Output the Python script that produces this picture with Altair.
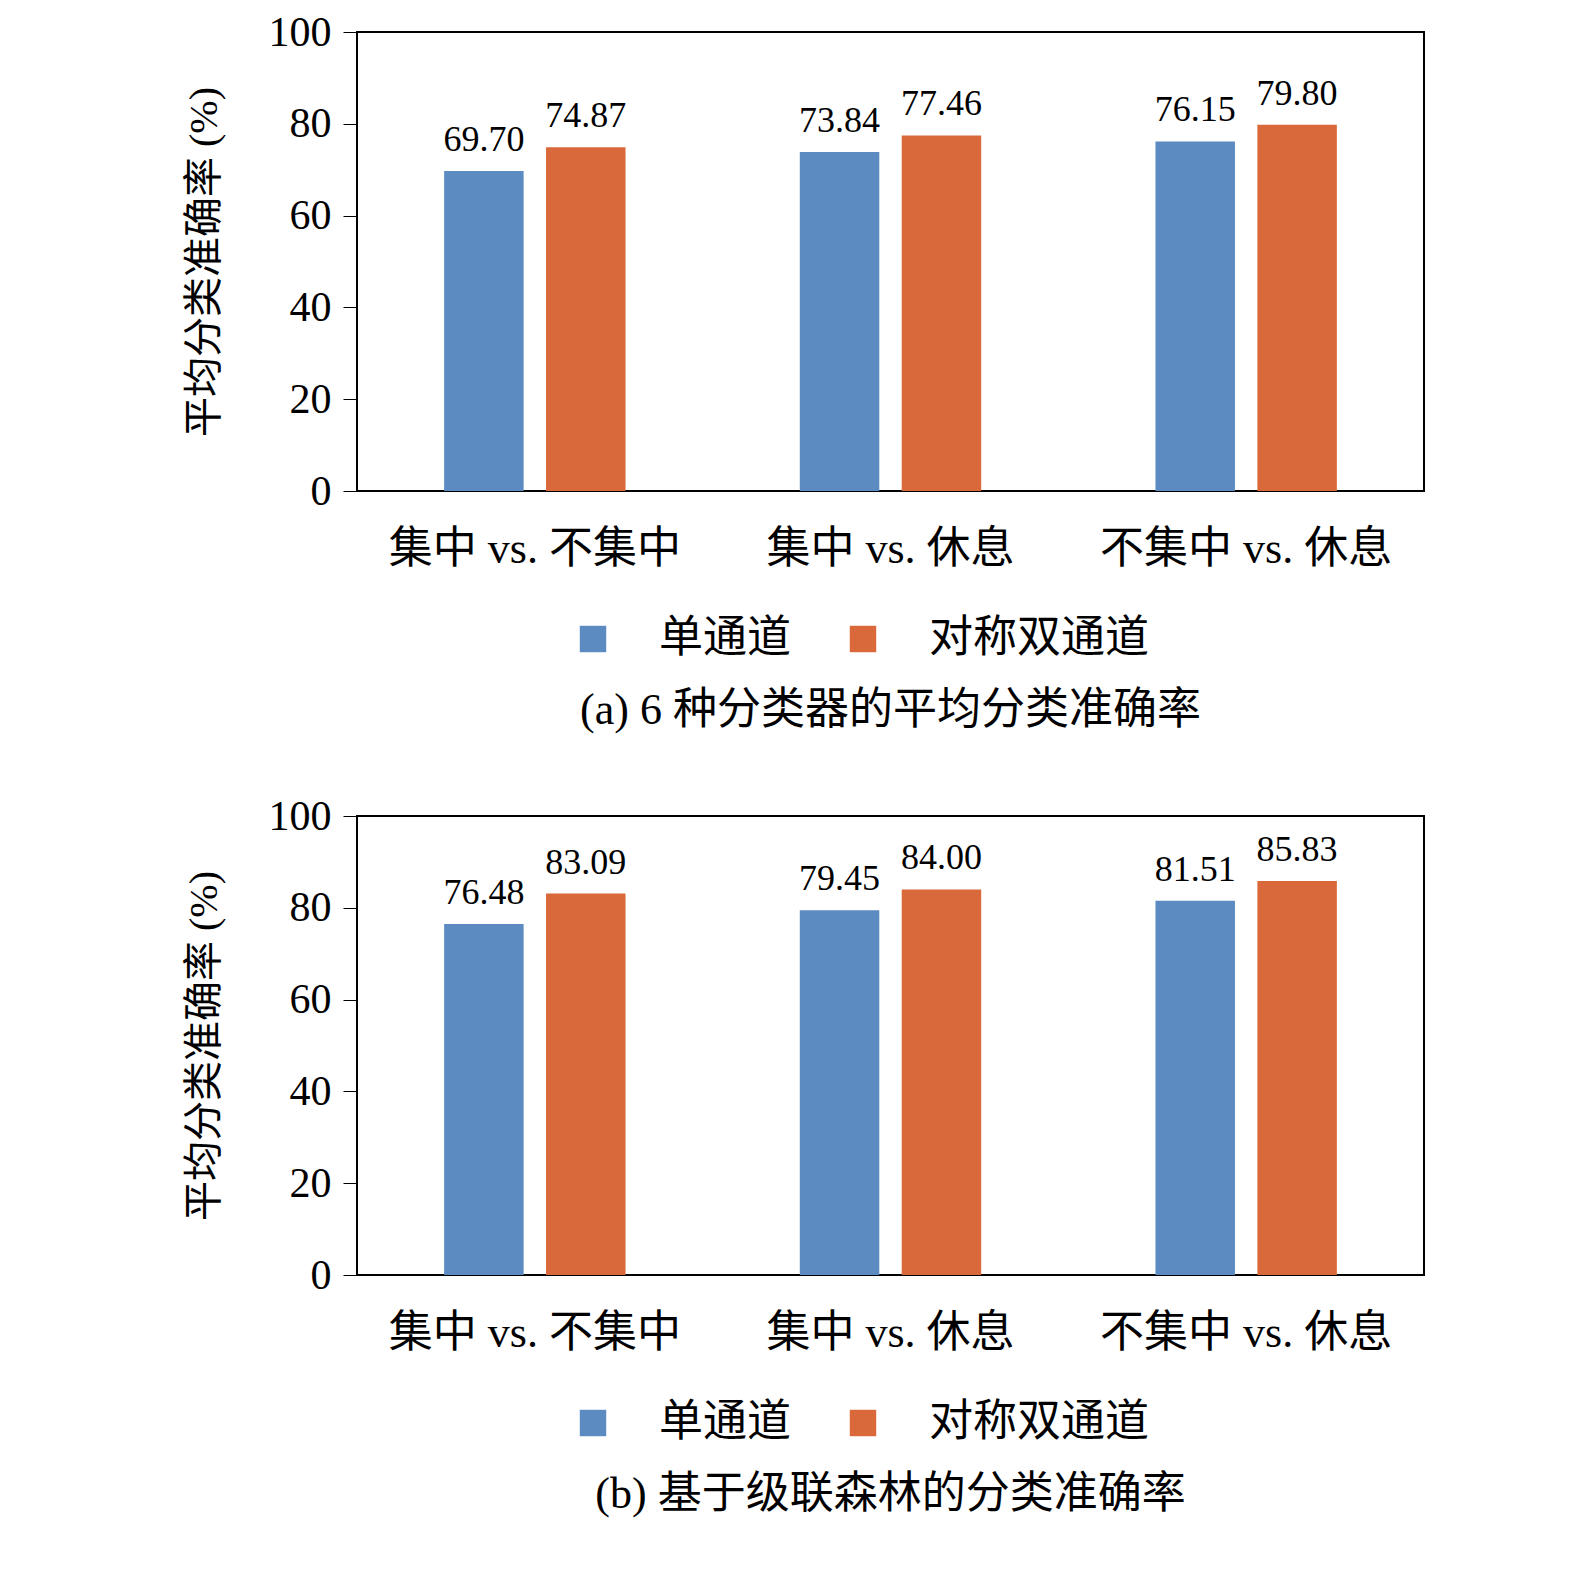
import pandas as pd
import altair as alt

groups = ["集中 vs. 不集中", "集中 vs. 休息", "不集中 vs. 休息"]
series = ["单通道", "对称双通道"]
vals_a_single = [69.70, 73.84, 76.15]
vals_a_dual = [74.87, 77.46, 79.80]
vals_b_single = [76.48, 79.45, 81.51]
vals_b_dual = [83.09, 84.00, 85.83]
captions = ["(a) 6 种分类器的平均分类准确率", "(b) 基于级联森林的分类准确率"]

FONT = "Liberation Serif, Noto Sans CJK SC"


def panel(single, dual, caption):
    rows = []
    for g, s, d in zip(groups, single, dual):
        rows.append({"group": g, "series": series[0], "value": s})
        rows.append({"group": g, "series": series[1], "value": d})
    df = pd.DataFrame(rows)
    df["label"] = df["value"].map(lambda v: f"{v:.2f}")

    base = alt.Chart(df).encode(
        x=alt.X("group:N", sort=groups, title=None,
                scale=alt.Scale(paddingInner=0.49, paddingOuter=0.245),
                axis=alt.Axis(labelAngle=0, labelFontSize=44, labelFont=FONT,
                              labelColor="black", ticks=False, domain=False,
                              labelPadding=36, labelLimit=0)),
        xOffset=alt.XOffset("series:N", sort=series,
                            scale=alt.Scale(paddingInner=0.22)),
    )
    bars = base.mark_bar().encode(
        y=alt.Y("value:Q", scale=alt.Scale(domain=[0, 100]),
                title="平均分类准确率 (%)",
                axis=alt.Axis(values=[0, 20, 40, 60, 80, 100], grid=False,
                              labelFontSize=42, labelFont=FONT, labelColor="black",
                              titleFontSize=40, titleFont=FONT, titleColor="black",
                              titleFontWeight="normal", titlePadding=44,
                              tickColor="black", tickSize=14, labelPadding=12,
                              domain=False)),
        color=alt.Color("series:N", sort=series,
                        scale=alt.Scale(domain=series, range=["#5B8BC0", "#D9693A"]),
                        legend=alt.Legend(title=None, orient="none", direction="horizontal",
                                          legendX=214, legendY=585,
                                          symbolType="square", symbolSize=700,
                                          labelFontSize=44, labelFont=FONT, labelLimit=0,
                                          labelColor="black", columnPadding=50,
                                          labelOffset=44)),
    )
    text = base.mark_text(dy=-12, baseline="bottom", fontSize=36, font=FONT,
                          color="black").encode(
        y="value:Q", text="label:N")
    return (bars + text).properties(
        width=1067, height=459,
        title=alt.TitleParams(caption, orient="bottom", fontSize=44, font=FONT,
                              fontWeight="normal", color="black", offset=28),
    )


chart = alt.vconcat(
    panel(vals_a_single, vals_a_dual, captions[0]),
    panel(vals_b_single, vals_b_dual, captions[1]),
    spacing=60,
).resolve_legend(color="independent").configure_view(
    stroke="black", strokeWidth=2
).properties(padding={"left": 175, "top": 2, "right": 10, "bottom": 5})

chart.save("out.html", embed_options={"renderer": "svg", "actions": False})
